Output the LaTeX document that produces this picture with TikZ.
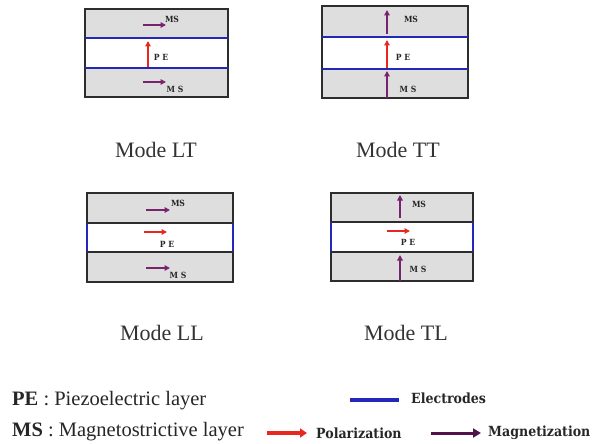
\documentclass[tikz,border=0pt]{standalone}
\usepackage{fontspec}
\setmainfont{Liberation Serif}
\newfontfamily\slab[FakeStretch=0.9]{DejaVu Serif}
\usetikzlibrary{arrows.meta}
\definecolor{msfill}{RGB}{222,222,222}
\definecolor{edge}{RGB}{45,45,45}
\definecolor{elec}{RGB}{35,40,185}
\definecolor{polr}{RGB}{232,40,30}
\definecolor{magp}{RGB}{120,35,110}
\definecolor{magd}{RGB}{80,20,75}
\tikzset{
  elecline/.style={draw=elec,line width=2.2pt},
  divline/.style={draw=edge,line width=1.6pt},
  magarrow/.style={draw=magp,line width=1.8pt,-{Triangle[length=5.5pt,width=5.5pt]}},
  polarrow/.style={draw=polr,line width=1.8pt,-{Triangle[length=5.5pt,width=5.5pt]}},
  lab/.style={font=\slab\bfseries\fontsize{8.5}{9}\selectfont,text=black!85,inner sep=0pt},
  modecap/.style={font=\fontsize{22}{25}\selectfont,text=black!80,inner sep=0pt},
  leg/.style={font=\fontsize{20.5}{23}\selectfont,text=black!85,inner sep=0pt,anchor=west},
  legb/.style={font=\slab\bfseries\fontsize{14}{16}\selectfont,text=black!85,inner sep=0pt,anchor=west}
}
\begin{document}
\begin{tikzpicture}[x=1pt,y=-1pt]
\useasboundingbox (0,0) rectangle (603,444);
% ---------- Mode LT ----------
\fill[msfill] (85,9) rectangle (228,97);
\fill[white] (85,38) rectangle (228,68);
\draw[draw=edge,line width=1.6pt] (85,9) rectangle (228,97);
\draw[elecline] (85,38) -- (228,38);
\draw[elecline] (85,68) -- (228,68);
\draw[magarrow] (143,25) -- (166,25);
\draw[polarrow] (148,67) -- (148,41);
\draw[magarrow] (143,82) -- (166,82);
\node[lab] (lt1) at (172,19) {MS};
\node[lab] (lt2) at (161,57) {P E};
\node[lab] (lt3) at (175,89) {M S};
\node[modecap] (clt) at (156,150) {Mode LT};
% ---------- Mode TT ----------
\fill[msfill] (322,6) rectangle (468,98);
\fill[white] (322,37) rectangle (468,69);
\draw[draw=edge,line width=1.6pt] (322,6) rectangle (468,98);
\draw[elecline] (322,37) -- (468,37);
\draw[elecline] (322,69) -- (468,69);
\draw[magarrow] (387,34) -- (387,10);
\draw[polarrow] (387,68) -- (387,40);
\draw[magarrow] (387,98) -- (387,71);
\node[lab] (tt1) at (411,19) {MS};
\node[lab] (tt2) at (403,57) {P E};
\node[lab] (tt3) at (408,89) {M S};
\node[modecap] (ctt) at (398,150) {Mode TT};
% ---------- Mode LL ----------
\fill[msfill] (87,193) rectangle (233,282);
\fill[white] (87,223) rectangle (233,252);
\draw[draw=elec,line width=1.4pt] (87,223) -- (87,252);
\draw[draw=elec,line width=1.4pt] (233,223) -- (233,252);
\draw[divline] (87,223) -- (87,193) -- (233,193) -- (233,223);
\draw[divline] (87,252) -- (87,282) -- (233,282) -- (233,252);
\draw[divline] (87,223) -- (233,223);
\draw[divline] (87,252) -- (233,252);
\draw[magarrow] (146,210) -- (170,210);
\draw[polarrow] (144,232) -- (167,232);
\draw[magarrow] (146,268) -- (170,268);
\node[lab] (ll1) at (178,203) {MS};
\node[lab] (ll2) at (167,244) {P E};
\node[lab] (ll3) at (178,275) {M S};
\node[modecap] (cll) at (162,333) {Mode LL};
% ---------- Mode TL ----------
\fill[msfill] (331,193) rectangle (473,281);
\fill[white] (331,222) rectangle (473,252);
\draw[draw=elec,line width=1.4pt] (331,222) -- (331,252);
\draw[draw=elec,line width=1.4pt] (473,222) -- (473,252);
\draw[divline] (331,222) -- (331,193) -- (473,193) -- (473,222);
\draw[divline] (331,252) -- (331,281) -- (473,281) -- (473,252);
\draw[divline] (331,222) -- (473,222);
\draw[divline] (331,252) -- (473,252);
\draw[magarrow] (400,218) -- (400,195);
\draw[polarrow] (387,231) -- (410,231);
\draw[magarrow] (400,281) -- (400,255);
\node[lab] (tl1) at (419,204) {MS};
\node[lab] (tl2) at (408,242) {P E};
\node[lab] (tl3) at (418,269) {M S};
\node[modecap] (ctl) at (406,333) {Mode TL};
% ---------- Legend ----------
\node[leg] (lpe) at (12,401) {\textbf{PE} : Piezoelectric layer};
\node[leg] (lms) at (12,432) {\textbf{MS} : Magnetostrictive layer};
\coordinate (eb1) at (350,400);
\coordinate (eb2) at (399,400);
\draw[draw=elec,line width=3.5pt] (eb1) -- (eb2);
\node[legb] (lel) at (411,398) {Electrodes};
\coordinate (pr1) at (267,433);
\coordinate (pr2) at (307,433);
\draw[draw=polr,line width=3.5pt,-{Triangle[length=7pt,width=9pt]}] (pr1) -- (pr2);
\node[legb] (lpo) at (316,433) {Polarization};
\coordinate (mg1) at (431,433);
\coordinate (mg2) at (481,433);
\draw[draw=magd,line width=3pt,-{Triangle[length=8pt,width=9pt]}] (mg1) -- (mg2);
\node[legb] (lmg) at (488,433) {Magnetization};
\end{tikzpicture}
\end{document}
